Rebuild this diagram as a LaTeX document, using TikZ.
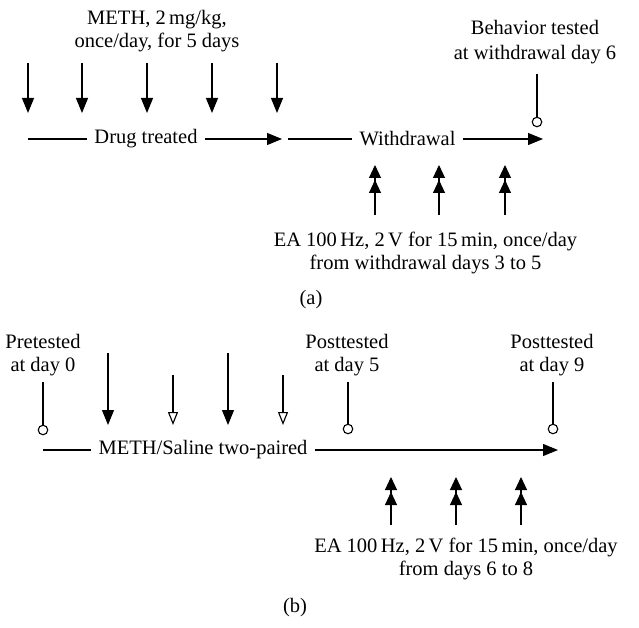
\documentclass[tikz,border=0pt]{standalone}
\usepackage{fontspec}
\setmainfont{Liberation Serif}
\usetikzlibrary{arrows.meta,positioning,calc}
\tikzset{
  lbl/.style={align=center, font=\fontsize{20.5}{23}\selectfont, inner sep=0pt},
  seg/.style={font=\fontsize{20.5}{23}\selectfont, inner xsep=7pt, inner ysep=0pt},
  tl/.style={line width=1.1pt},
  tlarr/.style={line width=1.1pt, -{Triangle[length=15pt,width=12pt]}},
  dose/.style={line width=1.1pt, -{Triangle[length=15pt,width=12pt]}},
  saline/.style={line width=1.1pt, -{Triangle[open,length=13pt,width=10pt]}},
  ea/.style={line width=1.1pt, -{Triangle[length=13pt,width=12pt,sep=2pt] Triangle[length=13pt,width=12pt]}},
  test/.style={circle, draw, fill=white, line width=1.1pt, minimum size=9.5pt, inner sep=0pt},
}

\begin{document}
\begin{tikzpicture}[x=1pt, y=-1pt]
    \useasboundingbox (0,0) rectangle (639,628);
    % (a)
    \node[lbl] (meth) at (157,31.5) {METH, 2\,mg/kg,\\once/day, for 5 days};
    \foreach \i/\x in {1/28,2/82,3/147,4/212,5/277} {
      \coordinate (dt\i) at (\x,63);
      \coordinate (dh\i) at (\x,113);
      \draw[dose] (dt\i) -- (dh\i);
    }
    \coordinate (a0) at (28,139);
    \node[seg] (drug) at (146,139) {Drug treated};
    \coordinate (a1) at (282,139);
    \draw[tl] (a0) -- (drug);
    \draw[tlarr] (drug) -- (a1);
    \coordinate (a2) at (288,139);
    \node[seg] (wd) at (407.5,139) {Withdrawal};
    \coordinate (a3) at (543,139);
    \draw[tl] (a2) -- (wd);
    \draw[tlarr] (wd) -- (a3);
    \node[lbl] (beh) at (535,42.5) {Behavior tested\\[2pt]at withdrawal day 6};
    \coordinate (bs) at (537,74);
    \node[test] (bc) at (537,122) {};
    \draw[tl] (bs) -- (bc);
    \foreach \i/\x in {1/375,2/439,3/505} {
      \coordinate (eb\i) at (\x,215);
      \coordinate (et\i) at (\x,165);
      \draw[ea] (eb\i) -- (et\i);
    }
    \node[lbl] (eatxt) at (425.5,253) {EA 100\,Hz, 2\,V for 15\,min, once/day\\from withdrawal days 3 to 5};
    \node[lbl] (capa) at (311,300) {(a)};
    % (b)
    \node[lbl] (pre) at (43,355) {Pretested\\at day 0};
    \coordinate (ps) at (43,382);
    \node[test] (pc) at (43,430) {};
    \draw[tl] (ps) -- (pc);
    \foreach \i/\x in {1/108,2/228} {
      \coordinate (mt\i) at (\x,353);
      \coordinate (mh\i) at (\x,425);
      \draw[dose] (mt\i) -- (mh\i);
    }
    \foreach \i/\x in {1/173,2/283} {
      \coordinate (st\i) at (\x,375);
      \coordinate (sh\i) at (\x,425);
      \draw[saline] (st\i) -- (sh\i);
    }
    \coordinate (b0) at (43,450);
    \node[seg] (pair) at (203,450) {METH/Saline two-paired};
    \coordinate (b1) at (558,450);
    \draw[tl] (b0) -- (pair);
    \draw[tlarr] (pair) -- (b1);
    \node[lbl] (post5) at (347,355) {Posttested\\at day 5};
    \coordinate (p5s) at (348,382);
    \node[test] (p5c) at (348,429) {};
    \draw[tl] (p5s) -- (p5c);
    \node[lbl] (post9) at (552,355) {Posttested\\at day 9};
    \coordinate (p9s) at (553,382);
    \node[test] (p9c) at (553,429) {};
    \draw[tl] (p9s) -- (p9c);
    \foreach \i/\x in {1/391,2/456,3/521} {
      \coordinate (fb\i) at (\x,525);
      \coordinate (ft\i) at (\x,477);
      \draw[ea] (fb\i) -- (ft\i);
    }
    \node[lbl] (eatxtb) at (466,559) {EA 100\,Hz, 2\,V for 15\,min, once/day\\from days 6 to 8};
    \node[lbl] (capb) at (295,608) {(b)};
\end{tikzpicture}
\end{document}
